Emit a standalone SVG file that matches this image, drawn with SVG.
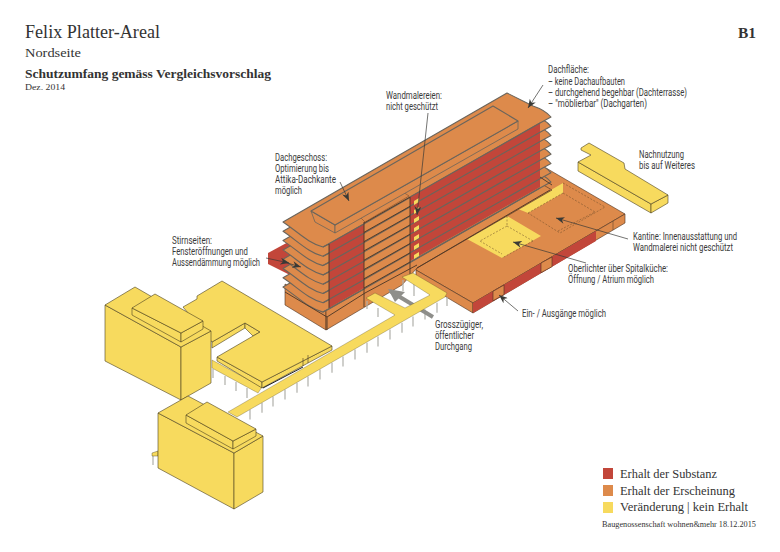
<svg xmlns="http://www.w3.org/2000/svg" xmlns:xlink="http://www.w3.org/1999/xlink" width="780" height="552" viewBox="0 0 780 552">
<style>
.y{fill:#f7da5e;stroke:#4a4020;stroke-width:.6;stroke-linejoin:round}
.o{fill:#dd8a4b;stroke:#4a3020;stroke-width:.6;stroke-linejoin:round}
.r{fill:#c2463a}
.slab{fill:#dd8a4b;stroke:#6a655c;stroke-width:1.1;stroke-linejoin:round}
.gl{fill:none;stroke:#6a655c;stroke-width:1.2}
.dl{fill:none;stroke:#4a3626;stroke-width:.9}
.dash{fill:none;stroke:#6a4a28;stroke-width:.5;stroke-dasharray:2 1.5}
.col{fill:none;stroke:#b0b0aa;stroke-width:1.2}
.lead{fill:none;stroke:#3a3a36;stroke-width:.7;marker-end:url(#ah)}
text{font-family:"Liberation Serif","DejaVu Serif",serif;fill:#333}
.l{font-family:Roboto,"Liberation Sans",sans-serif;font-size:10px;fill:#3a3a3a}
</style>
<defs>
<marker id="ah" viewBox="0 0 10 8" refX="10" refY="4" markerWidth="9" markerHeight="7" markerUnits="userSpaceOnUse" orient="auto"><path d="M0,0 L10,4 L0,8 L3,4Z" fill="#3a3a36"/></marker>
<path id="slab" d="M283,222 L507,93 L533,106 Q545,110 551,117 L540,123 L329,244 L323,247 C308,243 298,232 283,222Z"/>
</defs>
<g id="header">
<text x="25" y="38" font-size="19" textLength="135" lengthAdjust="spacingAndGlyphs">Felix Platter-Areal</text>
<text x="25" y="57" font-size="13" textLength="56" lengthAdjust="spacingAndGlyphs">Nordseite</text>
<text x="25" y="78" font-size="11.5" font-weight="bold" textLength="246" lengthAdjust="spacingAndGlyphs">Schutzumfang gemäss Vergleichsvorschlag</text>
<text x="25" y="90" font-size="8.5" textLength="40" lengthAdjust="spacingAndGlyphs">Dez. 2014</text>
<text x="738" y="38" font-size="15" font-weight="bold" textLength="18" lengthAdjust="spacingAndGlyphs">B1</text>
</g>
<g id="podium">
<polygon class="o" points="416,270 473,303 625,214 546,168 416,243"/>
<polygon class="o" points="416,270 473,303 473,313 416,279"/>
<polygon class="o" points="473,303 625,214 625,223 473,313"/>
<polygon class="r" points="473,303 596,231 596,241 473,313"/>
<polygon class="o" points="493,291.3 504,285 504,294.6 493,300.8"/>
<polygon class="o" points="541,263 552,257 552,266.7 541,272.7"/>
<path class="dl" style="stroke-width:.5" d="M613,221V230"/>
<polygon class="y" style="stroke:none" points="467,239 507,216 541,236 502,258"/>
<polygon class="y" style="stroke:none" points="518,209 563,183 563,193 528,213"/>
<path class="dash" d="M507,216V226M507,226L480,241M507,226L533,241M480,241L502,254M533,241L502,258"/>
<path class="dash" d="M528,213L563,193M563,183L605,207 560,233 528,213M563,193L595,212 558,231"/>
</g>
<g id="tower">
<polygon class="r" points="268,253 292,240 300,280 268,264"/>
<polygon class="o" points="285,284 326,306 326,330 285,305"/>
<polygon class="o" points="326,306 540,183 552,190 417,268 402,285 326,330"/>
<use xlink:href="#slab" class="slab" transform="translate(0,65.1)"/>
<use xlink:href="#slab" class="slab" transform="translate(0,55.8)"/>
<use xlink:href="#slab" class="slab" transform="translate(0,46.5)"/>
<use xlink:href="#slab" class="slab" transform="translate(0,37.2)"/>
<use xlink:href="#slab" class="slab" transform="translate(0,27.9)"/>
<use xlink:href="#slab" class="slab" transform="translate(0,18.6)"/>
<use xlink:href="#slab" class="slab" transform="translate(0,9.3)"/>
<use xlink:href="#slab" class="slab"/>
<polygon class="r" points="329,244 364,224 364,288 329,308"/>
<polygon class="r" points="410,197 540,123 540,187 410,261"/>
<path class="gl" d="M323,247L364,224M410,197L540,123M323,256.3L364,233.3M410,206.3L540,132.3M323,265.6L364,242.6M410,215.6L540,141.6M323,274.900L364,251.900M410,224.9L540,150.9M323,284.200L364,261.200M410,234.2L540,160.2M323,293.500L364,270.500M410,243.5L540,169.5M323,302.800L364,279.800M410,252.8L540,178.8M323,312L364,289M410,262L540,188"/>
<path class="dl" d="M364,223L410,197M364,232.3L410,206.3M364,241.6L410,215.6M364,250.9L410,224.9M364,260.2L410,234.2M364,269.5L410,243.5M364,278.8L410,252.8M364,288L410,262"/>
<path class="dl" d="M364,222V307M410,197V280M329,244V308M327,317V330M285,292L327,317 365,293 417,265M417,268L550,190M540,177L552,185"/>
<g fill="#f7da5e"><polygon points="414,201 419,198 419,202 414,205"/><polygon points="414,210 419,207 419,211 414,214"/><polygon points="414,219 419,216 419,220 414,223"/><polygon points="414,228 419,225 419,229 414,232"/><polygon points="414,237 419,234 419,238 414,241"/><polygon points="414,246 419,243 419,247 414,250"/><polygon points="414,255 419,252 419,256 414,259"/></g>
<polygon class="o" points="360,217 403,192 409,196 365,222" style="stroke-width:.4"/>
<polygon class="o" style="stroke:#6a655c;stroke-width:.8" points="311,211 335,225 335,233 315,222"/>
<polygon class="o" style="stroke:#6a655c;stroke-width:.8" points="335,225 518,121 518,129 335,233"/>
<polygon class="o" style="stroke:#6a655c;stroke-width:1.1" points="311,211 493,106 518,121 335,225"/>
</g>
<g id="nachnutzung">
<polygon class="y" points="578,162 651,204 651,213 578,171"/>
<polygon class="y" points="651,204 668,195 668,203 651,213"/>
<polygon class="y" points="581,148 589,143 624,163 625,169 668,195 651,204 578,162 591,155 581,150"/>
</g>
<g id="walkway">
<path class="col" d="M250,409.6v10M262,402.7v10M273,396.4v10M285,389.6v10M297,382.7v10M308,376.4v10M320,369.6v10M332,362.7v10M343,356.4v10M355,349.6v10M367,342.7v10M378,336.4v10M390,329.6v10M402,322.7v10M413,316.4v10M425,309.6v10M437,302.7v10M447,297v9M213,369v9M225,376v9M236,382v9M247,388v10M367,301v8M378,308v9M403,280v11M414,284v12M153,455v10"/>
<path d="M390,291L433,317" fill="none" stroke="#8e8e8a" stroke-width="4"/>
<polygon points="388,289 405,292 395,302" fill="#8e8e8a"/>
<polygon class="y" style="stroke-width:.3" points="228,412 395,315 366,298 375,293 405,308 430,295 402,277 413,273 447,293 445,297 237,417"/>
<polygon class="y" style="stroke-width:.3" points="212,360 262,387 258,393 212,368"/>
<polygon class="y" style="stroke-width:.4" points="152,453 158,451 158,456 152,456"/>
</g>
<g id="plate">
<polygon class="y" points="212,342 245,323 245,328 212,348"/>
<polygon class="y" points="245,323 260,332 253,336 245,328"/>
<polygon class="y" points="217,357 262,382 262,388 217,361"/>
<polygon class="y" points="262,382 332,346 332,350 262,388"/>
<polygon class="y" points="183,307 197,299 197,296 222,281 332,346 262,382 217,357 260,332 245,323 212,342"/>
<path d="M263,388L303,367" stroke="#222" stroke-width="1" fill="none"/>
<path class="dl" style="stroke-width:.6" d="M303,358V366M308,355V363"/>
</g>
<g id="building1">
<polygon class="y" points="105,305 181,347 181,400 105,361"/>
<polygon class="y" points="181,347 211,331 211,383 181,400"/>
<polygon class="y" points="105,305 135,287 211,331 181,347"/>
<polygon class="y" points="132,308 181,333 181,342 132,315"/>
<polygon class="y" points="181,333 203,321 203,329 181,342"/>
<polygon class="y" points="132,308 155,294 203,321 181,333"/>
</g>
<g id="building2">
<polygon class="y" points="158,413 234,453 234,509 158,468"/>
<polygon class="y" points="234,453 263,436 263,492 234,509"/>
<polygon class="y" points="158,413 188,396 263,436 234,453"/>
<polygon class="y" points="186,415 233,441 233,449 186,423"/>
<polygon class="y" points="233,441 256,429 256,436 233,449"/>
<polygon class="y" points="186,415 207,402 256,429 233,441"/>
</g>
<g id="connectors">
<line class="lead" x1="543" y1="85" x2="528" y2="108"/>
<line class="lead" x1="428" y1="113" x2="417" y2="215"/>
<line class="lead" x1="340" y1="182" x2="349" y2="201"/>
<line class="lead" x1="266" y1="258" x2="289" y2="263"/>
<line class="lead" x1="284" y1="262" x2="301" y2="267"/>
<line class="lead" x1="628" y1="239" x2="556" y2="218"/>
<line class="lead" x1="586" y1="263" x2="513" y2="242"/>
<line class="lead" x1="518" y1="311" x2="499" y2="295"/>
</g>
<g id="labels">
<text class="l" x="548" y="73" textLength="41" lengthAdjust="spacingAndGlyphs">Dachfläche:</text>
<text class="l" x="548" y="84.500" textLength="77" lengthAdjust="spacingAndGlyphs">– keine Dachaufbauten</text>
<text class="l" x="548" y="95.500" textLength="139" lengthAdjust="spacingAndGlyphs">– durchgehend begehbar (Dachterrasse)</text>
<text class="l" x="548" y="106.500" textLength="99" lengthAdjust="spacingAndGlyphs">– "möblierbar" (Dachgarten)</text>
<text class="l" x="386" y="99" textLength="56" lengthAdjust="spacingAndGlyphs">Wandmalereien:</text>
<text class="l" x="386" y="110" textLength="52" lengthAdjust="spacingAndGlyphs">nicht geschützt</text>
<text class="l" x="275" y="161" textLength="52" lengthAdjust="spacingAndGlyphs">Dachgeschoss:</text>
<text class="l" x="275" y="172" textLength="54" lengthAdjust="spacingAndGlyphs">Optimierung bis</text>
<text class="l" x="275" y="183" textLength="61" lengthAdjust="spacingAndGlyphs">Attika-Dachkante</text>
<text class="l" x="275" y="194" textLength="27" lengthAdjust="spacingAndGlyphs">möglich</text>
<text class="l" x="172" y="244" textLength="40" lengthAdjust="spacingAndGlyphs">Stirnseiten:</text>
<text class="l" x="172" y="255" textLength="76" lengthAdjust="spacingAndGlyphs">Fensteröffnungen  und</text>
<text class="l" x="172" y="266" textLength="88" lengthAdjust="spacingAndGlyphs">Aussendämmung möglich</text>
<text class="l" x="639" y="158" textLength="45" lengthAdjust="spacingAndGlyphs">Nachnutzung</text>
<text class="l" x="639" y="169" textLength="56" lengthAdjust="spacingAndGlyphs">bis auf Weiteres</text>
<text class="l" x="633" y="240" textLength="104" lengthAdjust="spacingAndGlyphs">Kantine: Innenausstattung und</text>
<text class="l" x="633" y="251" textLength="100" lengthAdjust="spacingAndGlyphs">Wandmalerei nicht geschützt</text>
<text class="l" x="568" y="272" textLength="100" lengthAdjust="spacingAndGlyphs">Oberlichter über Spitalküche:</text>
<text class="l" x="568" y="283" textLength="86" lengthAdjust="spacingAndGlyphs">Öffnung / Atrium möglich</text>
<text class="l" x="522" y="317" textLength="84" lengthAdjust="spacingAndGlyphs">Ein- / Ausgänge möglich</text>
<text class="l" x="435" y="328" textLength="48" lengthAdjust="spacingAndGlyphs">Grosszügiger,</text>
<text class="l" x="435" y="339" textLength="39" lengthAdjust="spacingAndGlyphs">öffentlicher</text>
<text class="l" x="435" y="350" textLength="37" lengthAdjust="spacingAndGlyphs">Durchgang</text>
</g>
<g id="legend">
<rect x="603" y="468" width="10" height="11" fill="#c2463a"/>
<rect x="603" y="485" width="10" height="11" fill="#dd8a4b"/>
<rect x="603" y="502" width="10" height="11" fill="#f7da5e"/>
<text x="620" y="478" font-size="11.500" textLength="97" lengthAdjust="spacingAndGlyphs">Erhalt der Substanz</text>
<text x="620" y="494.500" font-size="11.500" textLength="115" lengthAdjust="spacingAndGlyphs">Erhalt der Erscheinung</text>
<text x="620" y="511" font-size="11.500" textLength="128" lengthAdjust="spacingAndGlyphs">Veränderung | kein Erhalt</text>
<text x="602" y="527" font-size="8" textLength="154" lengthAdjust="spacingAndGlyphs">Baugenossenschaft wohnen&amp;mehr 18.12.2015</text>
</g>
</svg>
